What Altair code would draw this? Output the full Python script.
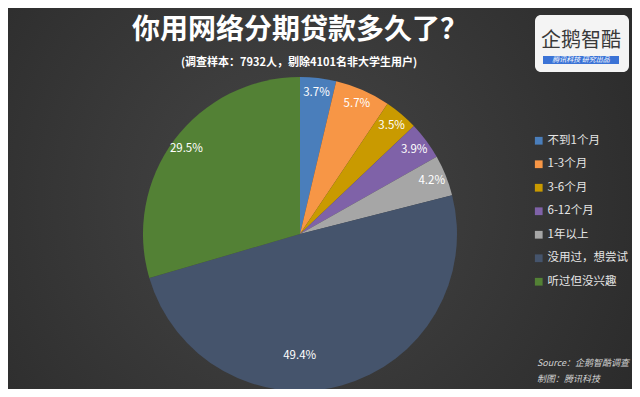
import altair as alt
import pandas as pd
import math

categories = ["不到1个月", "1-3个月", "3-6个月", "6-12个月", "1年以上", "没用过，想尝试", "听过但没兴趣"]
values = [3.7, 5.7, 3.5, 3.9, 4.2, 49.4, 29.5]
colors = ["#4a7ebb", "#f79646", "#c99a00", "#7f62a8", "#a6a6a6", "#45546c", "#538135"]

title_text = "你用网络分期贷款多久了？"
subtitle_text = "(调查样本：7932人，剔除4101名非大学生用户)"
source_lines = ["Source：企鹅智酷调查", "制图：腾讯科技"]

df = pd.DataFrame({
    "cat": categories,
    "val": values,
    "idx": list(range(len(categories))),
    "label": [f"{v}%" for v in values],
})

W, H = 624, 381
CX, CY, R = 292, 226, 157
FONT = "Noto Sans CJK SC"
TOTAL = sum(values)

color_scale = alt.Scale(domain=categories, range=colors)

bg = alt.Chart(pd.DataFrame({"a": [0]})).mark_rect(
    color=alt.Gradient(
        gradient="radial",
        stops=[alt.GradientStop(color="#464646", offset=0),
               alt.GradientStop(color="#262626", offset=1)],
        x1=0.45, y1=0.5, r1=0, x2=0.45, y2=0.5, r2=0.75,
    )
).encode(x=alt.value(0), x2=alt.value(W), y=alt.value(0), y2=alt.value(H))

pie = alt.Chart(df).mark_arc(radius=R).encode(
    theta=alt.Theta("val:Q", stack=True),
    order=alt.Order("idx:Q"),
    x=alt.value(CX), y=alt.value(CY),
    color=alt.Color("cat:N", scale=color_scale, sort=categories,
                    legend=alt.Legend(title=None, orient="none", legendX=525, legendY=127,
                                      symbolType="square", symbolSize=60, symbolStrokeWidth=0,
                                      labelColor="#e6e6e6", labelFont=FONT, labelFontSize=11.5,
                                      rowPadding=10.5, labelOffset=3)),
)

lab_base = alt.Chart(df).transform_window(
    cum="sum(val)", sort=[alt.SortField("idx")], frame=[None, 0]
).transform_calculate(
    mid="datum.cum - datum.val / 2"
).encode(
    theta=alt.Theta("mid:Q", stack=None, scale=alt.Scale(domain=[0, TOTAL], range=[0, 2 * math.pi])),
    x=alt.value(CX), y=alt.value(CY), text="label:N",
)

labels_small = lab_base.mark_text(radius=142, font=FONT, fontSize=11.5, color="#ffffff").transform_filter(
    alt.datum.val < 40)
labels_big = lab_base.mark_text(radius=122, thetaOffset=0.27, font=FONT, fontSize=11.5, color="#ffffff").transform_filter(
    alt.datum.val >= 40)

title = alt.Chart(pd.DataFrame({"t": [title_text]})).mark_text(
    font=FONT, fontSize=28, fontWeight="bold", color="#ffffff", align="center", baseline="middle"
).encode(x=alt.value(292), y=alt.value(23), text="t:N")

subtitle = alt.Chart(pd.DataFrame({"t": [subtitle_text]})).mark_text(
    font=FONT, fontSize=11, fontWeight="bold", color="#ffffff", align="center", baseline="middle"
).encode(x=alt.value(291), y=alt.value(55), text="t:N")

src1 = alt.Chart(pd.DataFrame({"t": [source_lines[0]]})).mark_text(
    font=FONT, fontSize=9, fontStyle="italic", color="#d0d0d0", align="left", baseline="middle"
).encode(x=alt.value(529), y=alt.value(355), text="t:N")
src2 = alt.Chart(pd.DataFrame({"t": [source_lines[1]]})).mark_text(
    font=FONT, fontSize=9, fontStyle="italic", color="#d0d0d0", align="left", baseline="middle"
).encode(x=alt.value(529), y=alt.value(371), text="t:N")

logo_box = alt.Chart(pd.DataFrame({"a": [0]})).mark_rect(
    color="#f4f4f4", cornerRadius=6
).encode(x=alt.value(527), x2=alt.value(621), y=alt.value(7), y2=alt.value(64))

logo_bar = alt.Chart(pd.DataFrame({"a": [0]})).mark_rect(
    color="#3b73d6"
).encode(x=alt.value(535), x2=alt.value(611), y=alt.value(48), y2=alt.value(56))

logo_text = alt.Chart(pd.DataFrame({"t": ["企鹅智酷"]})).mark_text(
    font=FONT, fontSize=20, color="#3a3a3a", align="center", baseline="middle"
).encode(x=alt.value(573), y=alt.value(33), text="t:N")

logo_sub = alt.Chart(pd.DataFrame({"t": ["腾讯科技  研究出品"]})).mark_text(
    font=FONT, fontSize=7, fontStyle="italic", color="#ffffff", align="center", baseline="middle"
).encode(x=alt.value(573), y=alt.value(52), text="t:N")

chart = alt.layer(
    bg, pie, labels_small, labels_big, title, subtitle, src1, src2, logo_box, logo_bar, logo_text, logo_sub
).properties(
    width=W, height=H, autosize=alt.AutoSizeParams(type="none"), padding=0,
    background="#2e2e2e",
).configure_view(stroke=None)

chart.save("out.html", embed_options={"renderer": "svg", "actions": False})
